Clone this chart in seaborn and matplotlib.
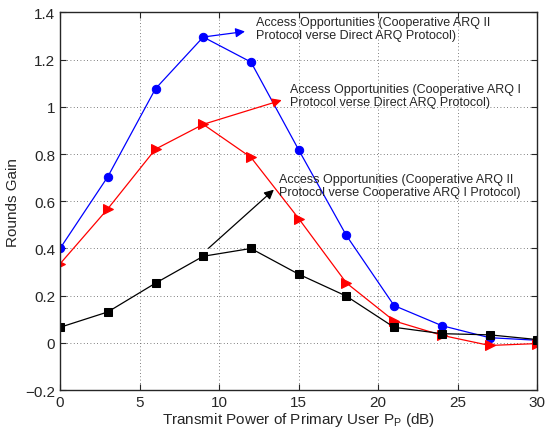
import numpy as np
import pandas as pd
import matplotlib
matplotlib.use("Agg")
import matplotlib.pyplot as plt
import seaborn as sns

# transmit power of primary user (dB)
power_db = [0, 3, 6, 9, 12, 15, 18, 21, 24, 27, 30]

# rounds gain
arq2_vs_direct = [0.40, 0.704, 1.077, 1.296, 1.19, 0.818, 0.455, 0.158, 0.073, 0.022, 0.011]
arq1_vs_direct = [0.335, 0.568, 0.821, 0.926, 0.786, 0.527, 0.254, 0.093, 0.032, -0.011, -0.003]
arq2_vs_arq1 = [0.066, 0.131, 0.253, 0.367, 0.40, 0.291, 0.198, 0.066, 0.039, 0.034, 0.014]

labels = [
    "Access Opportunities (Cooperative ARQ II\nProtocol verse Direct ARQ Protocol)",
    "Access Opportunities (Cooperative ARQ I\nProtocol verse Direct ARQ Protocol)",
    "Access Opportunities (Cooperative ARQ II\nProtocol verse Cooperative ARQ I Protocol)",
]

sns.set_style("ticks")
plt.rcParams["font.family"] = ["Liberation Sans", "DejaVu Sans"]
plt.rcParams["mathtext.fontset"] = "custom"
plt.rcParams["mathtext.rm"] = "Liberation Sans"
plt.rcParams["mathtext.it"] = "Liberation Sans"

df = pd.DataFrame({"x": power_db, "a": arq2_vs_direct, "b": arq1_vs_direct, "c": arq2_vs_arq1})

fig = plt.figure(figsize=(5.46, 4.35), dpi=100)
ax = fig.add_axes([0.110, 0.101, 0.874, 0.868])

sns.lineplot(data=df, x="x", y="a", color="blue", marker="o", markersize=6,
             markeredgecolor="blue", linewidth=0.9, ax=ax)
sns.lineplot(data=df, x="x", y="b", color="red", marker=">", markersize=7,
             markeredgecolor="red", linewidth=0.9, ax=ax)
sns.lineplot(data=df, x="x", y="c", color="black", marker="s", markersize=5.5,
             markeredgecolor="black", linewidth=0.9, ax=ax)

ax.set_xlim(0, 30)
ax.set_ylim(-0.2, 1.4)
ax.set_xticks(np.arange(0, 31, 5))
ax.set_yticks(np.round(np.arange(-0.2, 1.41, 0.2), 1))
ax.set_yticklabels(["\u22120.2", "0", "0.2", "0.4", "0.6", "0.8", "1", "1.2", "1.4"])
ax.grid(True, linestyle=(0, (1, 3)), color="#555555", linewidth=0.6)
ax.tick_params(direction="in", top=True, right=True, labelsize=11, length=4)
for s in ax.spines.values():
    s.set_linewidth(1.0)

ax.set_xlabel("Transmit Power of Primary User P$_{\\mathregular{P}}$ (dB)", fontsize=11, labelpad=1)
ax.set_ylabel("Rounds Gain", fontsize=11)

# annotations with arrows
arrow_specs = [
    ((9, 1.296), (11.8, 1.321), (12.3, 1.333), "blue", labels[0]),
    ((9, 0.926), (14.1, 1.032), (14.45, 1.049), "red", labels[1]),
    ((9.2, 0.393), (13.57, 0.657), (13.77, 0.667), "black", labels[2]),
]
for start, head, txt, col, lab in arrow_specs:
    ax.annotate("", xy=head, xytext=start,
                arrowprops=dict(arrowstyle="-|>", color=col, lw=0.9, mutation_scale=14))
    ax.text(txt[0], txt[1], lab, fontsize=9, va="center", ha="left", linespacing=1.1)

fig.savefig("out.png", dpi=100)
